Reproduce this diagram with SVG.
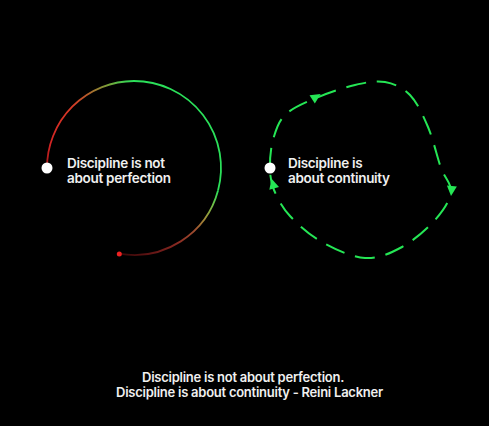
<svg xmlns="http://www.w3.org/2000/svg" width="489" height="426" viewBox="0 0 489 426">
  <style>
    .lbl { font-family: Inter, "Noto Sans", "Liberation Sans", sans-serif; font-weight: 600; fill: #f0f0f0; }
    .side { font-size: 13.5px; letter-spacing: -0.3px; }
    .quote { font-size: 13px; letter-spacing: -0.25px; }
    .arc { fill: none; stroke-width: 1.8; stroke-linecap: butt; }
    .loop { fill: none; stroke: #25e655; stroke-width: 2; stroke-dasharray: 20 11; }
  </style>
  <defs>
    <linearGradient id="g1" gradientUnits="userSpaceOnUse" x1="47" y1="168" x2="134" y2="81">
      <stop offset="0" stop-color="#a01616"/>
      <stop offset="0.15" stop-color="#d42424"/>
      <stop offset="0.5" stop-color="#d63a26"/>
      <stop offset="0.65" stop-color="#b85a2a"/>
      <stop offset="0.72" stop-color="#a07a30"/>
      <stop offset="0.85" stop-color="#70a83c"/>
      <stop offset="0.95" stop-color="#3ed052"/>
      <stop offset="1" stop-color="#2be05a"/>
    </linearGradient>
    <linearGradient id="g3" gradientUnits="userSpaceOnUse" x1="218.03" y1="190.52" x2="118.89" y2="253.68">
      <stop offset="0" stop-color="#2be05a"/>
      <stop offset="0.1" stop-color="#70c048"/>
      <stop offset="0.22" stop-color="#a09038"/>
      <stop offset="0.34" stop-color="#a05030"/>
      <stop offset="0.53" stop-color="#8a2a22"/>
      <stop offset="0.78" stop-color="#601414"/>
      <stop offset="1" stop-color="#3a0808"/>
    </linearGradient>
    <path id="ah" d="M5.5,0 L-4.5,-5 L-4.5,5 Z" fill="#25e655"/>
  </defs>
  <rect width="489" height="426" fill="#000000"/>

  <g id="connectors">
    <g id="perfection-arc">
      <path class="arc" stroke="url(#g1)" d="M47,168 A87,87 0 0 1 134,81"/>
      <path class="arc" stroke="#2be05a" d="M134,81 A87,87 0 0 1 218.03,190.52"/>
      <path class="arc" stroke="url(#g3)" d="M218.03,190.52 A87,87 0 0 1 118.89,253.68"/>
    </g>
    <g id="continuity-loop">
      <path class="loop" d="M270,168 C269.83,159.67 270.5,148.83 273,140 C275.5,131.17 277.83,122 285,115 C292.17,108 304.33,103 316,98 C327.67,93 343.5,87.67 355,85 C366.5,82.33 375.83,80.33 385,82 C394.17,83.67 402.83,87.5 410,95 C417.17,102.5 422.83,114.83 428,127 C433.17,139.17 437.17,157.17 441,168 C444.83,178.83 452,183.33 451,192 C450,200.67 443.17,210.83 435,220 C426.83,229.17 413.67,240.67 402,247 C390.33,253.33 378.33,258.83 365,258 C351.67,257.17 334.5,249 322,242 C309.5,235 298,224.67 290,216 C282,207.33 277.33,198 274,190 C270.67,182 270.17,176.33 270,168 Z"/>
      <use href="#ah" transform="translate(316,97) rotate(-32)"/>
      <use href="#ah" transform="translate(451.5,190.5) rotate(95)"/>
      <use href="#ah" transform="translate(273,184) rotate(-105)"/>
    </g>
  </g>

  <g id="node-perfection">
    <circle cx="47" cy="168" r="5.5" fill="#ffffff"/>
    <circle cx="119.3" cy="254" r="2.5" fill="#ee2222"/>
    <text class="lbl side" x="67" y="168">Discipline is not</text>
    <text class="lbl side" x="67" y="183">about perfection</text>
  </g>

  <g id="node-continuity">
    <circle cx="270" cy="168" r="5.5" fill="#ffffff"/>
    <text class="lbl side" x="288" y="168">Discipline is</text>
    <text class="lbl side" x="288" y="183">about continuity</text>
  </g>

  <g id="quote">
    <text class="lbl quote" x="142" y="382">Discipline is not about perfection.</text>
    <text class="lbl quote" x="116" y="397">Discipline is about continuity - Reini Lackner</text>
  </g>
</svg>
